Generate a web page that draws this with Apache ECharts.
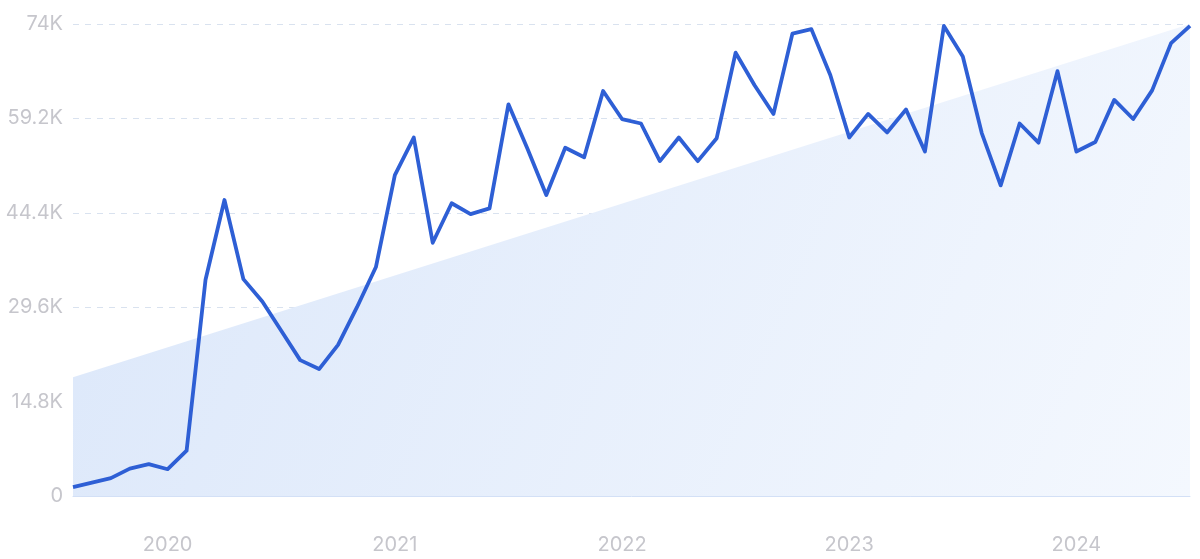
<!DOCTYPE html>
<html>
<head>
<meta charset="utf-8">
<script src="https://cdn.jsdelivr.net/npm/echarts@6/dist/echarts.min.js"></script>
<style>
html,body{margin:0;padding:0;background:#fff;}
#chart{width:1200px;height:559px;}
</style>
</head>
<body>
<div id="chart"></div>
<script>
const months = [
 '2019-08','2019-09','2019-10','2019-11','2019-12',
 '2020-01','2020-02','2020-03','2020-04','2020-05','2020-06','2020-07','2020-08','2020-09','2020-10','2020-11','2020-12',
 '2021-01','2021-02','2021-03','2021-04','2021-05','2021-06','2021-07','2021-08','2021-09','2021-10','2021-11','2021-12',
 '2022-01','2022-02','2022-03','2022-04','2022-05','2022-06','2022-07','2022-08','2022-09','2022-10','2022-11','2022-12',
 '2023-01','2023-02','2023-03','2023-04','2023-05','2023-06','2023-07','2023-08','2023-09','2023-10','2023-11','2023-12',
 '2024-01','2024-02','2024-03','2024-04','2024-05','2024-06','2024-07'
];
const values = [
 1400, 2100, 2800, 4300, 5000,
 4200, 7100, 33900, 46400, 34000, 30500, 25900, 21300, 19900, 23700, 29600, 35900,
 50300, 56200, 39700, 45900, 44200, 45100, 61400, 54500, 47200, 54600, 53100, 63500,
 59100, 58400, 52500, 56200, 52500, 56100, 69500, 64400, 59900, 72500, 73200, 66000,
 56200, 59900, 57000, 60600, 54000, 73700, 68900, 56900, 48700, 58400, 55400, 66600,
 54000, 55500, 62100, 59100, 63600, 71000, 73700
];
const trendStart = 18600;
const trendEnd = 74000;
const yTicks = [0, 14800, 29600, 44400, 59200, 74000];

const chart = echarts.init(document.getElementById('chart'));
const fmt = v => v === 0 ? '0' : (Math.round(v / 100) / 10) + 'K';
chart.setOption({
  animation: false,
  grid: {left: 73, right: 10, top: 24, bottom: 63},
  xAxis: [{
    type: 'category',
    data: months,
    boundaryGap: false,
    axisLine: {show: true, lineStyle: {color: '#d3e0f6', width: 1}},
    axisTick: {show: false},
    splitLine: {show: false},
    axisLabel: {
      interval: (i, v) => v.endsWith('-01'),
      formatter: v => v.slice(0, 4),
      color: '#c6c6cc',
      fontFamily: 'Inter',
      fontSize: 20,
      margin: 39
    }
  }, {
    type: 'value',
    min: 0,
    max: months.length - 1,
    show: false
  }],
  yAxis: {
    type: 'value',
    min: yTicks[0],
    max: yTicks[yTicks.length - 1],
    interval: yTicks[1] - yTicks[0],
    axisLine: {show: false},
    axisTick: {show: false},
    splitLine: {lineStyle: {color: '#d9e2ef', type: [6, 6], width: 1}},
    axisLabel: {
      formatter: fmt,
      color: '#c6c6cc',
      fontFamily: 'Inter',
      fontSize: 20,
      margin: 10
    }
  },
  series: [{
    type: 'line',
    xAxisIndex: 1,
    data: [[0, trendStart], [months.length - 1, trendEnd]],
    symbol: 'none',
    lineStyle: {width: 0},
    areaStyle: {
      opacity: 1,
      color: new echarts.graphic.LinearGradient(0, 0, 1, 1, [
        {offset: 0, color: '#dbe7fa'},
        {offset: 1, color: '#f4f8fe'}
      ])
    },
    silent: true,
    z: 1
  }, {
    type: 'line',
    data: values,
    symbol: 'none',
    lineStyle: {color: '#2e5fd5', width: 3.8, join: 'round'},
    z: 3
  }]
});
</script>
</body>
</html>
